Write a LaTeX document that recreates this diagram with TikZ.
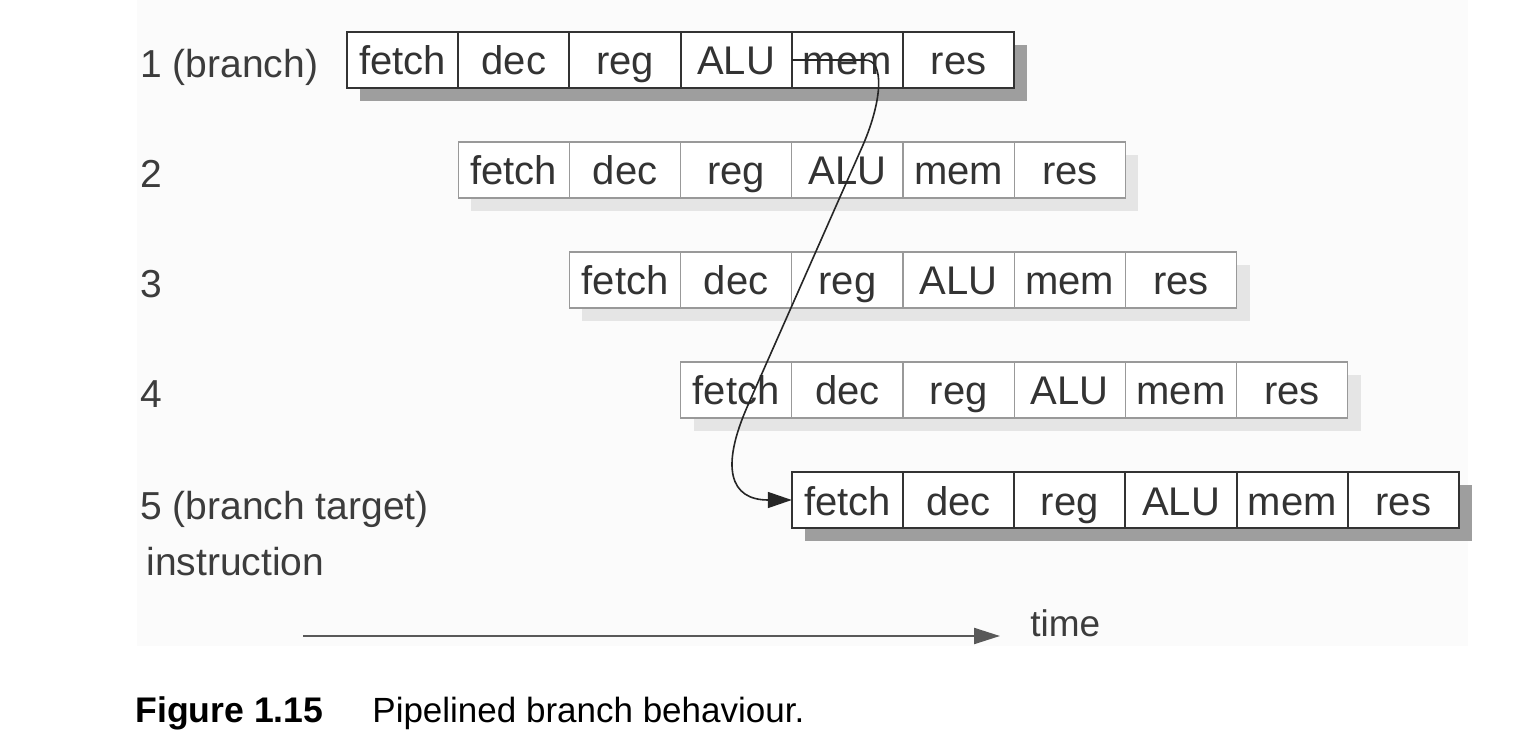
\documentclass[tikz,border=0pt]{standalone}
\usepackage{fontspec}
\setmainfont{Liberation Sans}
\usetikzlibrary{arrows.meta}
\definecolor{ink}{HTML}{333333}
\definecolor{labink}{HTML}{3C3C3C}
\definecolor{bgcol}{HTML}{FBFBFB}
\begin{document}
\begin{tikzpicture}[x=0.5pt,y=-0.5pt,
  cell/.style={minimum width=55.6pt, minimum height=28pt, inner sep=0pt, outer sep=0pt,
    anchor=west, font=\fontsize{20}{22}\selectfont, text=ink, fill=white,
    text height=15.5pt, text depth=0.5pt},
  dark/.style={draw=ink, line width=1pt},
  faint/.style={draw=black!40, line width=0.6pt},
  darkshadow/.style={fill=black!38},
  faintshadow/.style={fill=black!10},
  lab/.style={anchor=base west, inner sep=0pt, text=labink, font=\fontsize{19.5}{22}\selectfont},
  curve/.style={draw=black!85, line width=0.8pt, -{Triangle[length=12pt,width=8pt]}},
  timearrow/.style={draw=black!65, line width=1.1pt, -{Triangle[length=13pt,width=8pt]}}
]
\useasboundingbox (0,0) rectangle (1536,748);
\fill[bgcol] (137,0) rectangle (1468,646);

\foreach \r/\sty in {1/dark,2/faint,3/faint,4/faint,5/dark} {
  \pgfmathsetmacro{\xo}{347+(\r-1)*111.2}
  \pgfmathsetmacro{\yt}{32+(\r-1)*110}
  \fill[\sty shadow] (\xo+13,\yt+13) rectangle (\xo+667.2+13,\yt+56+13);
  \foreach [count=\c] \t in {fetch,dec,reg,ALU,mem,res} {
    \node[cell,\sty] (r\r c\c) at ({\xo+(\c-1)*111.2},{\yt+28}) {\t};
  }
}

\node[lab] (l1) at (140,78) {1 (branch)};
\node[lab] (l2) at (140,188) {2};
\node[lab] (l3) at (140,298) {3};
\node[lab] (l4) at (140,408) {4};
\node[lab] (l5) at (140,519) {5 (branch target)};
\node[lab] (l5b) at (146,575) {instruction};

\draw[curve] (r1c5.west) -- (865,60) .. controls (885,60) and (882,101) .. (863,145)
  -- (748,405) .. controls (720,468) and (730,500) .. (r5c1.west);

\coordinate (t0) at (303,636);
\coordinate (t1) at (1000,636);
\draw[timearrow] (t0) -- (t1);
\node[lab, font=\fontsize{18.5}{22}\selectfont] (time) at (1030,636) {time};

\node[anchor=base west, inner sep=0pt, font=\fontsize{17.8}{20}\selectfont\bfseries] (fig) at (135,722) {Figure 1.15};
\node[anchor=base west, inner sep=0pt, font=\fontsize{17.5}{20}\selectfont] (cap) at (372,722) {Pipelined branch behaviour.};
\end{tikzpicture}
\end{document}
